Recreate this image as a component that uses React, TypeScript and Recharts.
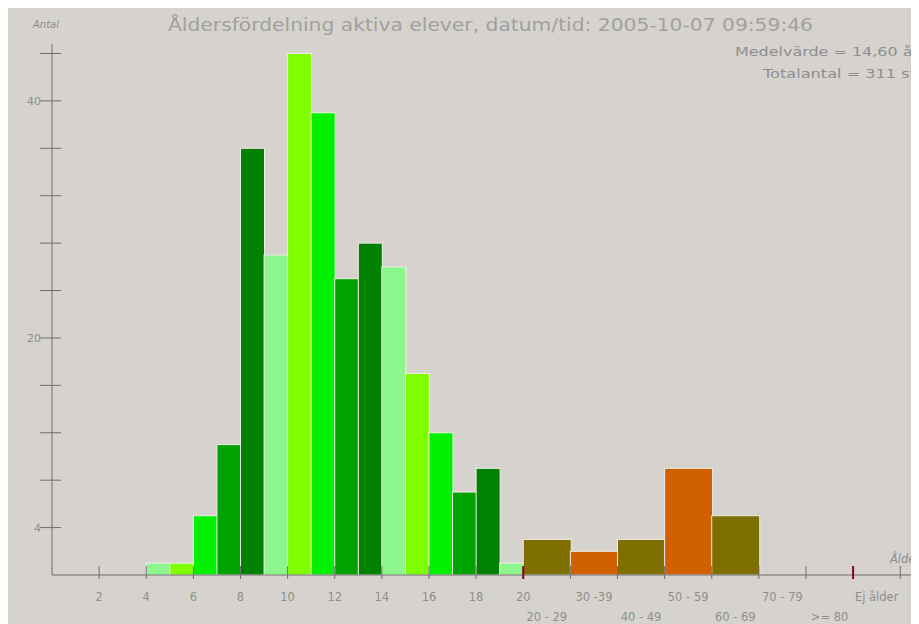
import React from 'react';
import { BarChart, Bar, XAxis, YAxis } from 'recharts';

// ---- data ----
const ageStart = 4;
const ageCounts = [1, 1, 5, 11, 36, 27, 44, 39, 25, 28, 26, 17, 12, 7, 9, 1]; // ages 4..19
const rangeLabels = ['20 - 29', '30 -39', '40 - 49', '50 - 59', '60 - 69', '70 - 79', '>= 80', 'Ej ålder'];
const rangeCounts = [3, 2, 3, 9, 5, 0, 0, 0];
const rangeStart = 20; // axis position where ranges begin
const ageColors = ['#8cf58c', '#80ff00', '#00f000', '#00a200', '#008200'];
const rangeColors = ['#7e6f00', '#d06000'];
const yTicks = [4, 8, 12, 16, 20, 24, 28, 32, 36, 40, 44];
const yLabeled = [4, 20, 40];
const xNumberTicks = [2, 4, 6, 8, 10, 12, 14, 16, 18, 20];
const xBoundaryTicks = [22, 24, 26, 28, 30, 32, 34, 36];
const xRedTicks = [20, 34];
const title = 'Åldersfördelning aktiva elever, datum/tid: 2005-10-07 09:59:46';
const meanText = 'Medelvärde = 14,60 år';
const totalText = 'Totalantal = 311 st';

// half-unit slots over axis [0, 36.5]
const slotCount = 73;
const data: any[] = [];
for (let k = 0; k < slotCount; k++) data.push({ slot: k, pos: k / 2, value: null, span: 1, color: 'none' });
ageCounts.forEach((v, i) => {
  const k = (ageStart + i) * 2;
  data[k] = { ...data[k], value: v, span: 2, color: ageColors[i % ageColors.length] };
});
rangeCounts.forEach((v, i) => {
  const k = (rangeStart + i * 2) * 2;
  data[k] = { ...data[k], value: v > 0 ? v : null, span: 4, color: rangeColors[i % rangeColors.length] };
});

const rangeLabelTicks = rangeLabels.map((_, i) => rangeStart + i * 2 + 1);
const xTicks = [...xNumberTicks, ...xBoundaryTicks, ...rangeLabelTicks].sort((a, b) => a - b);

const AXIS = '#6e6e6e';
const TXT = '#8e8e8e';
const FONT = '"DejaVu Sans", Verdana, sans-serif';

const BarShape = (props: any) => {
  const { x, y, width, height, payload } = props;
  if (payload == null || payload.value == null || !height) return null;
  return (
    <rect
      x={x}
      y={y}
      width={width * payload.span}
      height={height}
      fill={payload.color}
      stroke="#efede9"
      strokeWidth={1}
    />
  );
};

const YTick = (props: any) => {
  const { x, y, payload } = props;
  const v = payload.value;
  return (
    <g>
      <line x1={x - 12} x2={x + 9} y1={y} y2={y} stroke={AXIS} strokeWidth={1} />
      {yLabeled.includes(v) && (
        <text x={x - 11} y={y + 4} textAnchor="end" fontSize={11} fill={TXT} fontFamily={FONT}>
          {v}
        </text>
      )}
    </g>
  );
};

const XTick = (props: any) => {
  const { x, y, payload } = props;
  const v = payload.value;
  const ri = rangeLabelTicks.indexOf(v);
  if (ri >= 0) {
    const row = ri % 2 === 0 ? 1 : 0;
    return (
      <text x={x} y={y + 26 + row * 20} textAnchor="middle" fontSize={11.5} fill={TXT} fontFamily={FONT}>
        {rangeLabels[ri]}
      </text>
    );
  }
  const red = xRedTicks.includes(v);
  return (
    <g>
      <line x1={x} x2={x} y1={y - 9} y2={y + 4} stroke={red ? '#8a0020' : AXIS} strokeWidth={red ? 2 : 1} />
      {xNumberTicks.includes(v) && (
        <text x={x} y={y + 26} textAnchor="middle" fontSize={11.5} fill={TXT} fontFamily={FONT}>
          {v}
        </text>
      )}
    </g>
  );
};

export default function App() {
  const W = 911;
  const H = 616;
  return (
    <div style={{ position: 'relative', width: W, height: H, background: '#d6d3ce' }}>
      <BarChart
        width={W}
        height={H}
        data={data}
        margin={{ top: 36, right: 7, bottom: 0, left: 0 }}
        barCategoryGap={0}
        barGap={0}
      >
        <XAxis xAxisId="cat" dataKey="slot" type="category" hide height={0} />
        <XAxis
          xAxisId="num"
          dataKey="pos"
          type="number"
          domain={[0, 36.5]}
          allowDataOverflow
          ticks={xTicks}
          interval={0}
          tick={<XTick />}
          tickLine={false}
          tickSize={0}
          tickMargin={0}
          height={49}
          axisLine={{ stroke: AXIS }}
        />
        <YAxis
          type="number"
          domain={[0, 44.8]}
          allowDataOverflow
          ticks={yTicks}
          interval={0}
          tick={<YTick />}
          tickLine={false}
          tickSize={0}
          tickMargin={0}
          width={44}
          axisLine={{ stroke: AXIS }}
        />
        <Bar xAxisId="cat" dataKey="value" shape={<BarShape />} isAnimationActive={false} />
      </BarChart>
      <svg width={W} height={H} style={{ position: 'absolute', left: 0, top: 0, pointerEvents: 'none' }}>
        <text x={25} y={20} fontSize={10} fontStyle="italic" fill={TXT} fontFamily={FONT}>
          Antal
        </text>
        <text x={160} y={23} fontSize={18} fill="#a0a0a0" fontFamily={FONT} textLength={645} lengthAdjust="spacingAndGlyphs">
          {title}
        </text>
        <text x={727} y={48} fontSize={12.5} fill={TXT} fontFamily={FONT} textLength={184} lengthAdjust="spacingAndGlyphs">
          {meanText}
        </text>
        <text x={755} y={70} fontSize={12.5} fill={TXT} fontFamily={FONT} textLength={153} lengthAdjust="spacingAndGlyphs">
          {totalText}
        </text>
        <text x={882} y={555} fontSize={11.5} fontStyle="italic" fill={TXT} fontFamily={FONT}>
          Ålder
        </text>
      </svg>
    </div>
  );
}
